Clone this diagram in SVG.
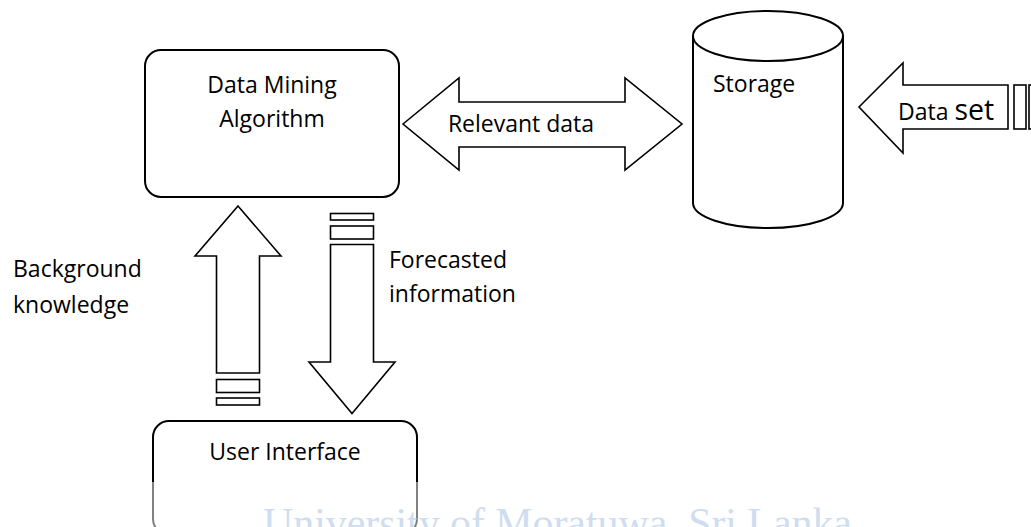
<svg xmlns="http://www.w3.org/2000/svg" width="1031" height="527" viewBox="0 0 1031 527">
<style>
.box{fill:#fff;stroke:#000;stroke-width:2}
.arr{fill:#fff;stroke:#000;stroke-width:1.6;stroke-linejoin:miter}
.t{font-family:"Open Sans","Liberation Sans",sans-serif;font-size:23px;fill:#000}
.wm{font-family:"Liberation Serif",serif;font-size:42px;fill:#a9c3e4;opacity:0.55}
</style>
<rect width="1031" height="527" fill="#fff"/>
<g id="connectors">
  <g id="relevant-data">
    <polygon class="arr" points="403,124 459,78 459,102 625,102 625,78 682,124 625,170 625,147 459,147 459,170"/>
    <text class="t" x="521" y="132" text-anchor="middle">Relevant data</text>
  </g>
  <g id="data-set">
    <polygon class="arr" points="859,107 903,63 903,85 1008,85 1008,129 903,129 903,153"/>
    <rect class="arr" x="1014" y="85" width="12" height="44"/>
    <rect class="arr" x="1029" y="85" width="10" height="44"/>
    <text class="t" x="898" y="120">Data <tspan font-size="28.5px">set</tspan></text>
  </g>
  <g id="background-knowledge">
    <polygon class="arr" points="238,206 281,256 259.5,256 259.5,373 216.5,373 216.5,256 195,256"/>
    <rect class="arr" x="216.5" y="379.5" width="43" height="13"/>
    <rect class="arr" x="216.5" y="398" width="43" height="7"/>
    <text class="t" x="13" y="277">Background</text>
    <text class="t" x="13" y="313">knowledge</text>
  </g>
  <g id="forecasted-information">
    <rect class="arr" x="330.5" y="213.5" width="43" height="6.5"/>
    <rect class="arr" x="330.5" y="226" width="43" height="13"/>
    <polygon class="arr" points="330.5,244.5 373.5,244.5 373.5,362 395,362 352,413.5 309,362 330.5,362"/>
    <text class="t" x="389" y="268">Forecasted</text>
    <text class="t" x="389" y="302">information</text>
  </g>
</g>
<g id="data-mining-algorithm">
  <rect class="box" x="145" y="50" width="254" height="147" rx="16"/>
  <text class="t" x="272" y="93" text-anchor="middle">Data Mining</text>
  <text class="t" x="272" y="127" text-anchor="middle">Algorithm</text>
</g>
<g id="storage">
  <path class="box" d="M693,36 L693,203 A75,25 0 0 0 843,203 L843,36"/>
  <ellipse class="box" cx="768" cy="36" rx="75" ry="25"/>
  <text class="t" x="713" y="92">Storage</text>
</g>
<g id="user-interface">
  <rect class="box" x="153" y="421" width="264" height="114" rx="16"/>
  <text class="t" x="285" y="460" text-anchor="middle">User Interface</text>
</g>
<rect x="0" y="482" width="1031" height="45" fill="#fff" opacity="0.5"/>
<text class="wm" x="263" y="537" textLength="589" lengthAdjust="spacing">University of Moratuwa, Sri Lanka</text>
</svg>
